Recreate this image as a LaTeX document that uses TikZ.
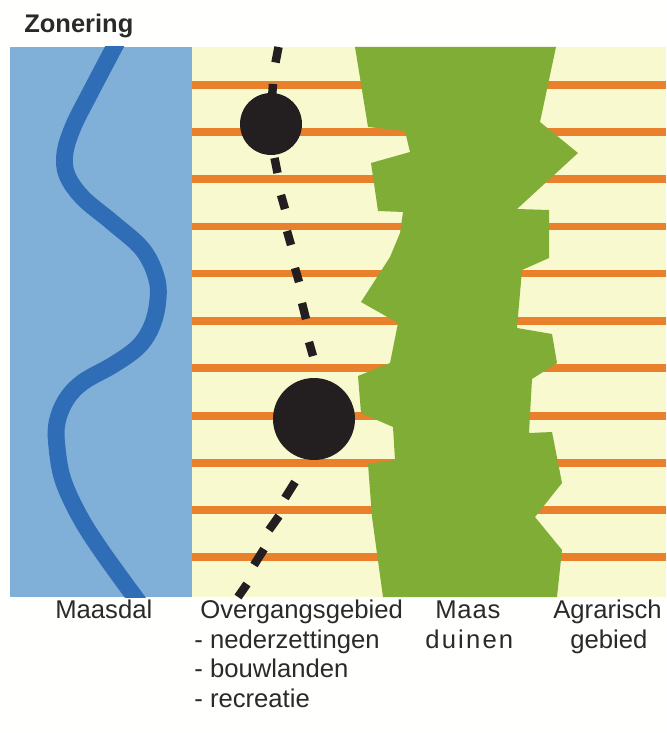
\documentclass[tikz,border=0pt]{standalone}
\usepackage{fontspec}
\setmainfont{Liberation Sans}
\definecolor{dalblauw}{HTML}{80AFD8}
\definecolor{rivierblauw}{HTML}{2F6DB6}
\definecolor{landgeel}{HTML}{F9F9D0}
\definecolor{akkeroranje}{HTML}{E8802C}
\definecolor{duingroen}{HTML}{7FAD36}
\definecolor{stipzwart}{HTML}{231F20}
\definecolor{tekstgrijs}{HTML}{2A2A2A}
\tikzset{
  akker/.style={akkeroranje,line width=4.4pt},
  route/.style={stipzwart,line width=4.8pt},
  label/.style={anchor=base west,inner sep=0pt,text=tekstgrijs,font=\fontsize{14.6}{17}\selectfont},
}
\begin{document}
\begin{tikzpicture}[x=0.02cm,y=-0.02cm]
  % Achtergrond
  \fill[white!98!landgeel] (0,0) rectangle (666,733);
  \useasboundingbox (0,0) rectangle (666,733);
  % Vlakken
  \fill[dalblauw] (10,47) rectangle (192,597);
  \fill[landgeel] (192,47) rectangle (666,597);
  % Rivier
  \begin{scope}
    \clip (10,47) rectangle (192,597);
    \draw[rivierblauw,line width=9.6pt] plot[smooth,tension=0.6] coordinates {
      (118,40) (88,97) (73,127) (65,153) (67,175) (83,198) (113,223) (143,250) (157,280)
      (157,307) (150,330) (137,348) (113,365) (83,382) (66,400) (57,423) (57,447)
      (63,480) (80,517) (103,553) (140,604)};
  \end{scope}
  % Akkers
  \foreach \y in {85,132,179,226.5,273.5,321,368,416,463,510,557}
    \draw[akker] (192,\y) -- (666,\y);
  % Duinen
  \fill[duingroen] (355,47) -- (368,127) -- (405,131) -- (410,152) -- (371,163) -- (378,211)
    -- (403,212) -- (400,233) -- (390,257) -- (361,302) -- (398,323) -- (390,363) -- (358,376)
    -- (361,413) -- (393,427) -- (395,460) -- (368,464) -- (372,517) -- (383,597) -- (557,597)
    -- (562,550) -- (535,517) -- (562,483) -- (552,432) -- (529,433) -- (532,379) -- (557,363)
    -- (552,334) -- (517,328) -- (522,270) -- (549,258) -- (549,210) -- (517,209) -- (578,153)
    -- (540,122) -- (556,47) -- cycle;
  % Route
  \foreach \xa/\ya/\xb/\yb in {278.5/47/275.5/62.5,273/84/272/98,274.5/158/277.5/173,
      281/195/285/209,287/231/291/245,295/268/299/282,302/303/306/319,309/342/313/356,
      295/482/285/498,279/516/269/530,264/549/254/565,247/584/238/597}
    \draw[route] (\xa,\ya) -- (\xb,\yb);
  % Nederzettingen
  \fill[stipzwart] (271,124) circle (31);
  \fill[stipzwart] (314,419) circle (41);
  % Teksten
  \node[label,font=\fontsize{14.5}{17}\selectfont\bfseries] (titel) at (24,33) {Zonering};
  \node[label] (maasdal) at (55,618) {Maasdal};
  \node[label] (overgang) at (200,618) {Overgangsgebied};
  \node[label] (neder) at (194,648) {- nederzettingen};
  \node[label] (bouw) at (194,677) {- bouwlanden};
  \node[label] (recreatie) at (194,707) {- recreatie};
  \node[label,font=\fontsize{14.6}{17}\selectfont\addfontfeature{LetterSpace=3}] (maas) at (435,618) {Maas};
  \node[label,font=\fontsize{14.6}{17}\selectfont\addfontfeature{LetterSpace=8.5}] (duinen) at (425,648) {duinen};
  \node[label] (agrarisch) at (553,618) {Agrarisch};
  \node[label] (gebied) at (570,648) {gebied};
\end{tikzpicture}
\end{document}
